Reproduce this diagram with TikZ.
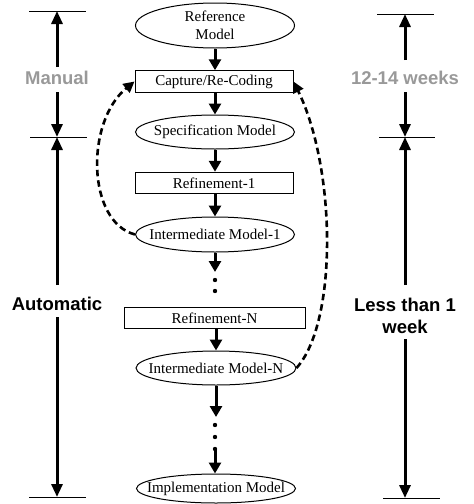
\documentclass[tikz,border=0pt]{standalone}
\usepackage{fontspec}
\setmainfont{Liberation Serif}
\newfontfamily\hsans{Liberation Sans}
\usetikzlibrary{shapes.geometric,arrows.meta}
\begin{document}
\begin{tikzpicture}[x=1pt,y=-1pt,
  every node/.style={inner sep=0pt},
  ell/.style={draw,line width=1pt,ellipse,minimum width=159pt},
  txt/.style={font=\fontsize{15}{18.5}\selectfont,align=center},
  boxx/.style={draw,line width=1pt,rectangle,minimum width=158pt,minimum height=21.5pt,font=\fontsize{15}{18.5}\selectfont},
  flow/.style={line width=3pt,-{Triangle[width=12pt,length=11pt]}},
  back/.style={line width=2.6pt,dash pattern=on 6.5pt off 4pt,-{Triangle[width=11pt,length=11pt]}},
  dim/.style={line width=3pt,-{Triangle[width=11pt,length=13pt]}},
  tick/.style={line width=1pt},
  dotn/.style={circle,fill=black,minimum size=4.4pt},
  lbl/.style={font=\hsans\bfseries\fontsize{18.5}{22}\selectfont,align=center},
  glbl/.style={lbl,text=black!40}]
\useasboundingbox (0,0) rectangle (474,504);
% flow nodes
\node[ell,minimum height=45pt] (ref) at (215,25.5) {};
\node[txt] (reft) at (ref) {Reference\\Model};
\node[boxx] (cap) at (214,81.5) {Capture/Re-Coding};
\node[ell,minimum height=34pt] (spec) at (215,132) {};
\node[txt] (spect) at (spec) {Specification Model};
\node[boxx] (r1) at (214,183) {Refinement-1};
\node[ell,minimum height=35pt] (int1) at (215,234.5) {};
\node[txt] (int1t) at (int1) {Intermediate Model-1};
\coordinate (e1) at (215,272);
\node[dotn] (d1) at (215,280) {};
\node[dotn] (d2) at (215,291) {};
\node[boxx,minimum width=181pt] (rN) at (214.5,318) {Refinement-N};
\node[ell,minimum height=34pt,minimum width=160pt] (intN) at (216,368) {};
\node[txt] (intNt) at (intN) {Intermediate Model-N};
\coordinate (e2) at (215,417);
\node[dotn] (d3) at (215,425) {};
\node[dotn] (d4) at (215,437) {};
\node[dotn] (d5) at (215,449) {};
\node[ell,minimum height=29pt] (impl) at (216,488.5) {};
\node[txt] (implt) at (impl) {Implementation Model};
% flow arrows
\draw[flow] (ref.south) -- (ref.south |- cap.north);
\draw[flow] (cap.south -| spec) -- (spec.north);
\draw[flow] (spec.south) -- (spec.south |- r1.north);
\draw[flow] (r1.south -| int1) -- (int1.north);
\draw[flow] (int1) -- (e1);
\draw[flow] (rN.south -| intN) -- (intN.north);
\draw[flow] (intN.south) -- (intN.south |- e2);
\draw[flow] (d5.center) -- (d5.center |- impl.north);
% feedback
\draw[back] (int1.west) .. controls (87,222) and (85,122) .. (cap.west);
\draw[back] (intN.east) .. controls (338,322) and (336,168) .. (cap.east);
% left dimension
\node[glbl] (man) at (57,78) {Manual};
\node[lbl] (aut) at (57,304) {Automatic};
\coordinate (lt) at (57,11);
\coordinate (lm) at (57,137);
\coordinate (lb) at (57,497);
\coordinate (l1) at (57,67);
\coordinate (l2) at (57,92);
\coordinate (l3) at (57,285);
\coordinate (l4) at (57,317);
\draw[tick] (29,11) -- (86,11);
\draw[tick] (30,137) -- (87,137);
\draw[tick] (29,497.5) -- (86,497.5);
\draw[dim] (l1) -- (lt);
\draw[dim] (l2) -- (lm);
\draw[dim] (l3) -- (lm);
\draw[dim] (l4) -- (lb);
% right dimension
\node[glbl] (wk) at (405,78) {12-14 weeks};
\node[lbl] (lt1) at (405,316) {Less than 1\\week};
\coordinate (rt) at (405,14);
\coordinate (rm) at (405,137);
\coordinate (rb) at (405,498);
\coordinate (r1a) at (405,60);
\coordinate (r2a) at (405,92);
\coordinate (r3a) at (405,285);
\coordinate (r4a) at (405,339);
\draw[tick] (377,14) -- (434,14);
\draw[tick] (379,137) -- (435,137);
\draw[tick] (383,498.5) -- (440,498.5);
\draw[dim] (r1a) -- (rt);
\draw[dim] (r2a) -- (rm);
\draw[dim] (r3a) -- (rm);
\draw[dim] (r4a) -- (rb);
\end{tikzpicture}
\end{document}
